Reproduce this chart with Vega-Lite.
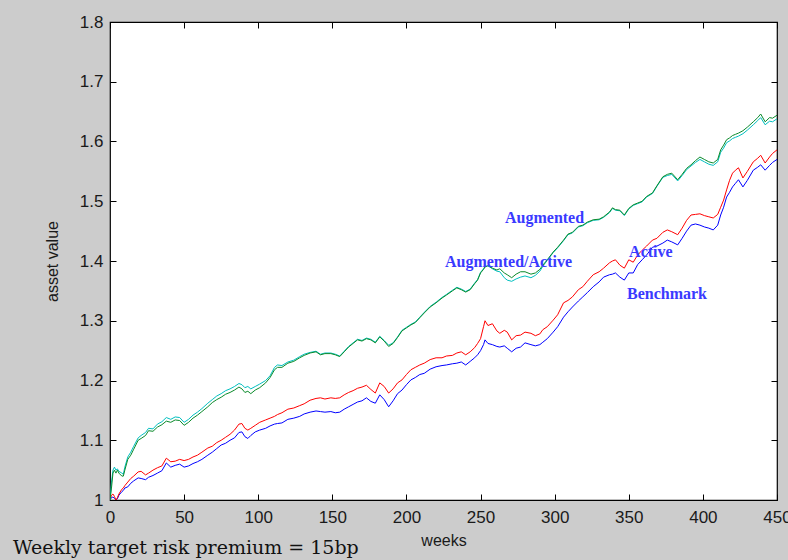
{
"$schema": "https://vega.github.io/schema/vega-lite/v6.json",
"width": 667, "height": 478,
"autosize": {"type": "none"},
"padding": {"left": 110, "top": 22, "right": 11, "bottom": 60},
"background": "#cccccc",
"config": {
  "view": {"fill": "white", "stroke": "black", "strokeWidth": 1.2},
  "axis": {"domain": false, "grid": false, "ticks": true, "tickColor": "black", "tickSize": 6, "tickWidth": 1, "offset": -6, "zindex": 1, "labelFont": "Liberation Sans", "labelFontSize": 17, "labelColor": "#1a1a1a", "titleFont": "Liberation Sans", "titleFontSize": 16, "titleFontWeight": "normal", "titleColor": "#1a1a1a", "labelOverlap": false, "labelBound": false}
},
"title": {"text": "Weekly target risk premium = 15bp", "orient": "bottom", "anchor": "start", "frame": "group", "font": "DejaVu Serif", "fontSize": 19, "fontWeight": "normal", "color": "#111111", "dx": -97, "baseline": "alphabetic", "offset": 6},
"data": {"values": [
{"w":0,"g":1.0,"c":1.0,"r":1.0,"b":1.0},
{"w":1,"g":1.02,"c":1.03,"r":1.008,"b":1.004},
{"w":2,"g":1.045,"c":1.05,"r":1.01,"b":1.005},
{"w":3,"g":1.05,"c":1.055,"r":1.006,"b":1.003},
{"w":4,"g":1.045,"c":1.05,"r":1.0,"b":1.0},
{"w":5,"g":1.05,"c":1.052,"r":1.004,"b":1.002},
{"w":6,"g":1.045,"c":1.048,"r":1.01,"b":1.008},
{"w":8,"g":1.04,"c":1.045,"r":1.018,"b":1.014},
{"w":9,"g":1.04,"c":1.043,"r":1.02,"b":1.016},
{"w":10,"g":1.05,"c":1.055,"r":1.024,"b":1.02},
{"w":12,"g":1.068,"c":1.072,"r":1.03,"b":1.022},
{"w":14,"g":1.075,"c":1.08,"r":1.036,"b":1.028},
{"w":16,"g":1.085,"c":1.09,"r":1.04,"b":1.032},
{"w":19,"g":1.1,"c":1.104,"r":1.047,"b":1.037},
{"w":21,"g":1.103,"c":1.108,"r":1.048,"b":1.036},
{"w":24,"g":1.108,"c":1.113,"r":1.042,"b":1.034},
{"w":26,"g":1.116,"c":1.12,"r":1.045,"b":1.038},
{"w":29,"g":1.115,"c":1.119,"r":1.05,"b":1.041},
{"w":32,"g":1.122,"c":1.127,"r":1.054,"b":1.045},
{"w":35,"g":1.126,"c":1.131,"r":1.057,"b":1.049},
{"w":38,"g":1.132,"c":1.138,"r":1.07,"b":1.062},
{"w":41,"g":1.13,"c":1.135,"r":1.064,"b":1.055},
{"w":44,"g":1.134,"c":1.139,"r":1.065,"b":1.058},
{"w":47,"g":1.133,"c":1.138,"r":1.068,"b":1.06},
{"w":50,"g":1.125,"c":1.13,"r":1.066,"b":1.055},
{"w":53,"g":1.13,"c":1.135,"r":1.068,"b":1.057},
{"w":56,"g":1.137,"c":1.142,"r":1.072,"b":1.061},
{"w":59,"g":1.142,"c":1.147,"r":1.075,"b":1.064},
{"w":62,"g":1.148,"c":1.153,"r":1.08,"b":1.068},
{"w":66,"g":1.156,"c":1.162,"r":1.087,"b":1.075},
{"w":69,"g":1.163,"c":1.168,"r":1.09,"b":1.08},
{"w":72,"g":1.168,"c":1.174,"r":1.096,"b":1.086},
{"w":75,"g":1.172,"c":1.178,"r":1.1,"b":1.092},
{"w":78,"g":1.177,"c":1.183,"r":1.105,"b":1.095},
{"w":81,"g":1.18,"c":1.186,"r":1.11,"b":1.1},
{"w":84,"g":1.184,"c":1.19,"r":1.117,"b":1.104},
{"w":87,"g":1.189,"c":1.195,"r":1.127,"b":1.113},
{"w":89,"g":1.186,"c":1.193,"r":1.128,"b":1.114},
{"w":91,"g":1.18,"c":1.188,"r":1.12,"b":1.106},
{"w":93,"g":1.182,"c":1.19,"r":1.117,"b":1.103},
{"w":95,"g":1.178,"c":1.186,"r":1.12,"b":1.108},
{"w":98,"g":1.184,"c":1.19,"r":1.125,"b":1.114},
{"w":101,"g":1.188,"c":1.194,"r":1.13,"b":1.117},
{"w":105,"g":1.196,"c":1.2,"r":1.134,"b":1.12},
{"w":108,"g":1.205,"c":1.208,"r":1.137,"b":1.124},
{"w":111,"g":1.218,"c":1.222,"r":1.14,"b":1.127},
{"w":113,"g":1.222,"c":1.226,"r":1.143,"b":1.128},
{"w":116,"g":1.222,"c":1.225,"r":1.146,"b":1.129},
{"w":120,"g":1.229,"c":1.231,"r":1.152,"b":1.135},
{"w":124,"g":1.232,"c":1.234,"r":1.154,"b":1.137},
{"w":128,"g":1.238,"c":1.24,"r":1.158,"b":1.14},
{"w":131,"g":1.242,"c":1.244,"r":1.161,"b":1.144},
{"w":135,"g":1.246,"c":1.247,"r":1.167,"b":1.147},
{"w":139,"g":1.248,"c":1.249,"r":1.17,"b":1.149},
{"w":142,"g":1.243,"c":1.244,"r":1.171,"b":1.148},
{"w":145,"g":1.245,"c":1.246,"r":1.169,"b":1.147},
{"w":149,"g":1.245,"c":1.246,"r":1.171,"b":1.148},
{"w":152,"g":1.243,"c":1.244,"r":1.17,"b":1.146},
{"w":155,"g":1.24,"c":1.241,"r":1.171,"b":1.147},
{"w":158,"g":1.248,"c":1.249,"r":1.176,"b":1.152},
{"w":161,"g":1.256,"c":1.257,"r":1.18,"b":1.156},
{"w":164,"g":1.262,"c":1.263,"r":1.183,"b":1.16},
{"w":167,"g":1.268,"c":1.269,"r":1.187,"b":1.164},
{"w":170,"g":1.266,"c":1.267,"r":1.189,"b":1.166},
{"w":173,"g":1.27,"c":1.271,"r":1.192,"b":1.171},
{"w":176,"g":1.268,"c":1.269,"r":1.185,"b":1.165},
{"w":179,"g":1.263,"c":1.264,"r":1.179,"b":1.162},
{"w":182,"g":1.273,"c":1.274,"r":1.196,"b":1.176},
{"w":185,"g":1.266,"c":1.267,"r":1.19,"b":1.168},
{"w":188,"g":1.257,"c":1.259,"r":1.179,"b":1.156},
{"w":191,"g":1.262,"c":1.263,"r":1.186,"b":1.166},
{"w":194,"g":1.272,"c":1.273,"r":1.196,"b":1.178},
{"w":197,"g":1.283,"c":1.284,"r":1.201,"b":1.184},
{"w":200,"g":1.288,"c":1.289,"r":1.21,"b":1.193},
{"w":203,"g":1.293,"c":1.294,"r":1.218,"b":1.201},
{"w":206,"g":1.297,"c":1.298,"r":1.222,"b":1.205},
{"w":209,"g":1.305,"c":1.306,"r":1.226,"b":1.21},
{"w":212,"g":1.313,"c":1.314,"r":1.229,"b":1.212},
{"w":216,"g":1.323,"c":1.324,"r":1.235,"b":1.219},
{"w":220,"g":1.33,"c":1.331,"r":1.238,"b":1.223},
{"w":224,"g":1.338,"c":1.339,"r":1.238,"b":1.225},
{"w":227,"g":1.343,"c":1.344,"r":1.241,"b":1.226},
{"w":231,"g":1.35,"c":1.351,"r":1.242,"b":1.228},
{"w":234,"g":1.355,"c":1.356,"r":1.246,"b":1.229},
{"w":237,"g":1.352,"c":1.353,"r":1.248,"b":1.231},
{"w":240,"g":1.348,"c":1.349,"r":1.243,"b":1.226},
{"w":243,"g":1.352,"c":1.353,"r":1.248,"b":1.232},
{"w":246,"g":1.362,"c":1.363,"r":1.255,"b":1.238},
{"w":248,"g":1.368,"c":1.369,"r":1.262,"b":1.243},
{"w":250,"g":1.38,"c":1.381,"r":1.27,"b":1.25},
{"w":252,"g":1.386,"c":1.387,"r":1.29,"b":1.26},
{"w":253,"g":1.39,"c":1.391,"r":1.3,"b":1.268},
{"w":255,"g":1.392,"c":1.392,"r":1.292,"b":1.262},
{"w":258,"g":1.388,"c":1.387,"r":1.295,"b":1.26},
{"w":261,"g":1.385,"c":1.383,"r":1.283,"b":1.257},
{"w":263,"g":1.387,"c":1.382,"r":1.279,"b":1.256},
{"w":266,"g":1.38,"c":1.372,"r":1.284,"b":1.258},
{"w":268,"g":1.377,"c":1.368,"r":1.281,"b":1.254},
{"w":271,"g":1.372,"c":1.366,"r":1.268,"b":1.248},
{"w":274,"g":1.378,"c":1.37,"r":1.275,"b":1.254},
{"w":277,"g":1.382,"c":1.373,"r":1.276,"b":1.256},
{"w":280,"g":1.382,"c":1.375,"r":1.281,"b":1.263},
{"w":284,"g":1.378,"c":1.372,"r":1.279,"b":1.26},
{"w":287,"g":1.38,"c":1.376,"r":1.275,"b":1.258},
{"w":290,"g":1.386,"c":1.383,"r":1.278,"b":1.26},
{"w":292,"g":1.393,"c":1.391,"r":1.285,"b":1.264},
{"w":295,"g":1.402,"c":1.401,"r":1.29,"b":1.27},
{"w":299,"g":1.415,"c":1.414,"r":1.301,"b":1.281},
{"w":302,"g":1.423,"c":1.422,"r":1.31,"b":1.29},
{"w":306,"g":1.435,"c":1.434,"r":1.33,"b":1.306},
{"w":309,"g":1.445,"c":1.444,"r":1.334,"b":1.315},
{"w":312,"g":1.448,"c":1.447,"r":1.34,"b":1.323},
{"w":316,"g":1.458,"c":1.457,"r":1.352,"b":1.333},
{"w":319,"g":1.46,"c":1.459,"r":1.357,"b":1.34},
{"w":322,"g":1.465,"c":1.464,"r":1.366,"b":1.347},
{"w":326,"g":1.469,"c":1.468,"r":1.377,"b":1.357},
{"w":330,"g":1.47,"c":1.469,"r":1.382,"b":1.365},
{"w":333,"g":1.474,"c":1.473,"r":1.388,"b":1.373},
{"w":337,"g":1.482,"c":1.481,"r":1.397,"b":1.377},
{"w":339,"g":1.489,"c":1.488,"r":1.4,"b":1.378},
{"w":341,"g":1.486,"c":1.485,"r":1.402,"b":1.38},
{"w":344,"g":1.485,"c":1.484,"r":1.393,"b":1.373},
{"w":347,"g":1.477,"c":1.476,"r":1.388,"b":1.368},
{"w":350,"g":1.488,"c":1.487,"r":1.402,"b":1.38},
{"w":353,"g":1.494,"c":1.493,"r":1.398,"b":1.38},
{"w":356,"g":1.497,"c":1.496,"r":1.41,"b":1.394},
{"w":359,"g":1.5,"c":1.499,"r":1.418,"b":1.402},
{"w":362,"g":1.508,"c":1.507,"r":1.425,"b":1.41},
{"w":366,"g":1.514,"c":1.513,"r":1.435,"b":1.423},
{"w":369,"g":1.526,"c":1.525,"r":1.438,"b":1.425},
{"w":373,"g":1.541,"c":1.54,"r":1.448,"b":1.43},
{"w":376,"g":1.545,"c":1.543,"r":1.452,"b":1.435},
{"w":379,"g":1.547,"c":1.545,"r":1.449,"b":1.432},
{"w":383,"g":1.536,"c":1.534,"r":1.444,"b":1.427},
{"w":386,"g":1.545,"c":1.543,"r":1.455,"b":1.438},
{"w":389,"g":1.555,"c":1.553,"r":1.468,"b":1.45},
{"w":392,"g":1.561,"c":1.559,"r":1.477,"b":1.46},
{"w":395,"g":1.568,"c":1.565,"r":1.478,"b":1.462},
{"w":398,"g":1.574,"c":1.57,"r":1.479,"b":1.46},
{"w":401,"g":1.57,"c":1.566,"r":1.476,"b":1.457},
{"w":404,"g":1.566,"c":1.562,"r":1.474,"b":1.455},
{"w":407,"g":1.564,"c":1.56,"r":1.472,"b":1.452},
{"w":410,"g":1.57,"c":1.566,"r":1.478,"b":1.46},
{"w":412,"g":1.586,"c":1.582,"r":1.49,"b":1.477},
{"w":414,"g":1.594,"c":1.589,"r":1.502,"b":1.49},
{"w":416,"g":1.603,"c":1.598,"r":1.519,"b":1.507},
{"w":418,"g":1.606,"c":1.601,"r":1.535,"b":1.515},
{"w":420,"g":1.61,"c":1.605,"r":1.547,"b":1.524},
{"w":422,"g":1.612,"c":1.607,"r":1.552,"b":1.53},
{"w":424,"g":1.614,"c":1.609,"r":1.556,"b":1.536},
{"w":427,"g":1.618,"c":1.613,"r":1.539,"b":1.524},
{"w":430,"g":1.624,"c":1.619,"r":1.55,"b":1.535},
{"w":434,"g":1.633,"c":1.628,"r":1.566,"b":1.552},
{"w":437,"g":1.64,"c":1.635,"r":1.572,"b":1.557},
{"w":439,"g":1.646,"c":1.64,"r":1.577,"b":1.561},
{"w":442,"g":1.633,"c":1.628,"r":1.564,"b":1.552},
{"w":445,"g":1.64,"c":1.634,"r":1.574,"b":1.56},
{"w":447,"g":1.639,"c":1.633,"r":1.58,"b":1.565},
{"w":450,"g":1.644,"c":1.638,"r":1.586,"b":1.57}
]},
"layer": [
  {"mark": {"type": "line", "color": "#0000ff", "strokeWidth": 1, "clip": true},
   "encoding": {
     "x": {"field": "w", "type": "quantitative", "scale": {"domain": [0, 450], "nice": false, "zero": false},
           "axis": {"orient": "bottom", "values": [0,50,100,150,200,250,300,350,400,450], "labelPadding": 9, "title": "weeks", "titlePadding": 7, "labelFlush": false}},
     "y": {"field": "b", "type": "quantitative", "scale": {"domain": [1, 1.8], "nice": false, "zero": false},
           "axis": {"orient": "left", "values": [1,1.1,1.2,1.3,1.4,1.5,1.6,1.7,1.8], "format": "~g", "labelPadding": 7, "title": "asset value", "titlePadding": 19, "labelFlush": false}}
   }},
  {"mark": {"type": "line", "color": "#ff0000", "strokeWidth": 1, "clip": true},
   "encoding": {
     "x": {"field": "w", "type": "quantitative", "axis": {"orient": "top", "values": [0,50,100,150,200,250,300,350,400,450], "labels": false, "title": null}},
     "y": {"field": "r", "type": "quantitative", "axis": {"orient": "right", "values": [1,1.1,1.2,1.3,1.4,1.5,1.6,1.7,1.8], "labels": false, "title": null}}
   }},
  {"mark": {"type": "line", "color": "#00bfbf", "strokeWidth": 1, "clip": true},
   "encoding": {
     "x": {"field": "w", "type": "quantitative", "axis": null},
     "y": {"field": "c", "type": "quantitative", "axis": null}
   }},
  {"mark": {"type": "line", "color": "#0a8a2a", "strokeWidth": 1, "clip": true},
   "encoding": {
     "x": {"field": "w", "type": "quantitative", "axis": null},
     "y": {"field": "g", "type": "quantitative", "axis": null}
   }},
  {"data": {"values": [
     {"label": "Augmented", "w": 266.5, "v": 1.4636},
     {"label": "Augmented/Active", "w": 226, "v": 1.39},
     {"label": "Active", "w": 350.2, "v": 1.4067},
     {"label": "Benchmark", "w": 348.8, "v": 1.3364}
   ]},
   "mark": {"type": "text", "align": "left", "baseline": "alphabetic", "font": "Liberation Serif", "fontWeight": "bold", "fontSize": 16, "letterSpacing": 2, "color": "#3a3aff"},
   "encoding": {
     "x": {"field": "w", "type": "quantitative", "axis": null},
     "y": {"field": "v", "type": "quantitative", "axis": null},
     "text": {"field": "label", "type": "nominal"}
   }}
],
"resolve": {"axis": {"x": "independent", "y": "independent"}}
}
